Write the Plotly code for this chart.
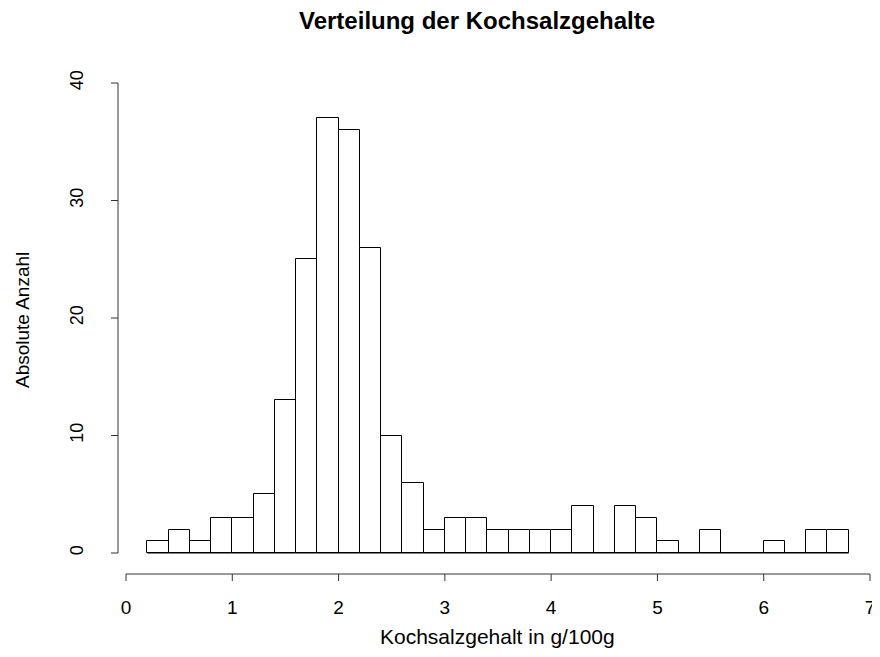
import plotly.graph_objects as go

bin_edges = [round(0.2 + 0.2 * i, 1) for i in range(34)]
counts = [1, 2, 1, 3, 3, 5, 13, 25, 37, 36, 26, 10, 6, 2, 3, 3, 2, 2, 2, 2,
          4, 0, 4, 3, 1, 0, 2, 0, 0, 1, 0, 2, 2]
x_ticks = [0, 1, 2, 3, 4, 5, 6, 7]
y_ticks = [0, 10, 20, 30, 40]

title = "Verteilung der Kochsalzgehalte"
x_title = "Kochsalzgehalt in g/100g"
y_title = "Absolute Anzahl"

centers = [(bin_edges[i] + bin_edges[i + 1]) / 2 for i in range(len(counts))]
widths = [bin_edges[i + 1] - bin_edges[i] for i in range(len(counts))]

# the page body has an 8px margin, so figure coords = viewport coords - 8
W, H = 872, 641
L, R, T, B = 100, 6, 67, 61
# pixel mapping (figure coords): x=0 -> 118, x=7 -> 862 ; y=0 -> 545, y=40 -> 75
sx = (862 - 118) / 7.0
sy = (545 - 75) / 40.0
xmin = (L - 118) / sx
xmax = 7 + ((W - R) - 862) / sx
ymax = 40 + (75 - T) / sy
ymin = -((H - B) - 545) / sy

xaxis_y = -(566 - 545) / sy
xtick_end = -(573 - 545) / sy
yaxis_x = (110 - 118) / sx
ytick_end = (103 - 118) / sx

fig = go.Figure()
fig.add_trace(go.Bar(x=centers, y=counts, width=widths,
                     marker=dict(color="white", line=dict(color="black", width=1)),
                     showlegend=False, hoverinfo="x+y"))
fig.add_trace(go.Scatter(x=[bin_edges[0], bin_edges[-1]], y=[0, 0], mode="lines",
                         line=dict(color="black", width=1), showlegend=False,
                         hoverinfo="skip"))

lc = "#333333"
shapes = []
shapes.append(dict(type="line", xref="x", yref="y", x0=x_ticks[0], x1=x_ticks[-1],
                   y0=xaxis_y, y1=xaxis_y, line=dict(color=lc, width=1)))
for t in x_ticks:
    shapes.append(dict(type="line", xref="x", yref="y", x0=t, x1=t,
                       y0=xaxis_y, y1=xtick_end, line=dict(color=lc, width=1)))
shapes.append(dict(type="line", xref="x", yref="y", x0=yaxis_x, x1=yaxis_x,
                   y0=y_ticks[0], y1=y_ticks[-1], line=dict(color=lc, width=1)))
for t in y_ticks:
    shapes.append(dict(type="line", xref="x", yref="y", x0=yaxis_x, x1=ytick_end,
                       y0=t, y1=t, line=dict(color=lc, width=1)))

font = "Liberation Sans, Arial, Helvetica, sans-serif"
pw, ph = W - L - R, H - T - B
fig.update_layout(
    width=W, height=H,
    margin=dict(l=L, r=R, t=T, b=B, autoexpand=False),
    plot_bgcolor="white", paper_bgcolor="white",
    bargap=0,
    font=dict(family=font, color="black", size=18),
    xaxis=dict(range=[xmin, xmax], tickvals=x_ticks, showgrid=False, zeroline=False,
               showline=False, ticks="", tickfont=dict(size=19), ticklabelstandoff=6,
               ticklabeloverflow="allow"),
    yaxis=dict(range=[ymin, ymax], tickvals=y_ticks, showgrid=False, zeroline=False,
               showline=False, ticks="", tickangle=-90, tickfont=dict(size=18),
               ticklabelstandoff=20),
    shapes=shapes,
    annotations=[
        dict(text="<b>" + title + "</b>", xref="paper", yref="paper",
             x=(469 - L) / pw, y=1 + (T - 12) / ph,
             xanchor="center", yanchor="middle", showarrow=False,
             font=dict(size=24, family=font)),
        dict(text=x_title, xref="paper", yref="paper",
             x=(489 - L) / pw, y=-(628 - (H - B)) / ph,
             xanchor="center", yanchor="middle", showarrow=False,
             font=dict(size=21, family=font)),
        dict(text=y_title, xref="paper", yref="paper",
             x=-(L - 14) / pw, y=((H - B) - 312) / ph,
             xanchor="center", yanchor="middle", showarrow=False, textangle=-90,
             font=dict(size=19, family=font)),
    ],
)

fig.write_html("out.html")
